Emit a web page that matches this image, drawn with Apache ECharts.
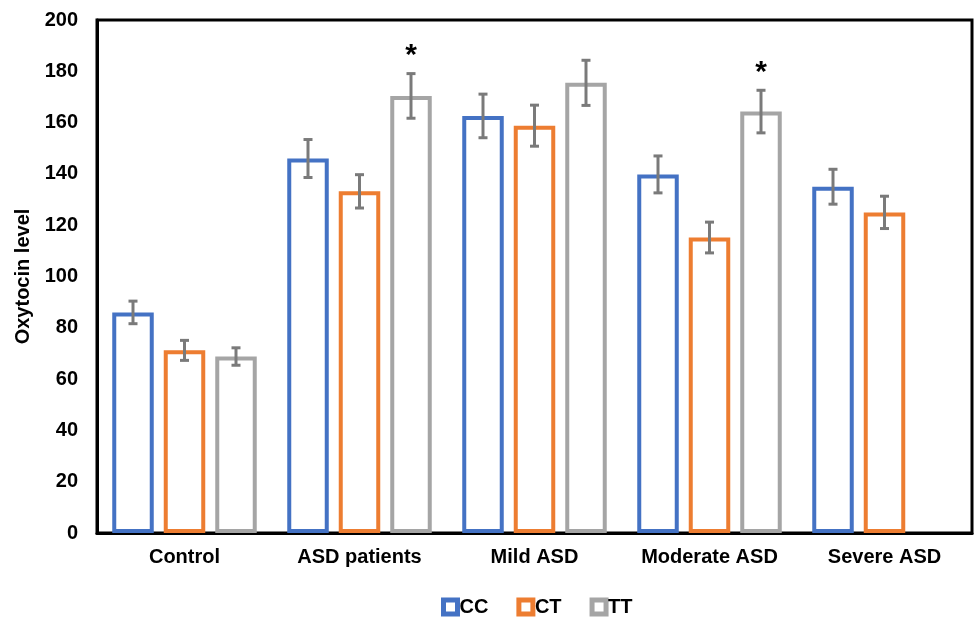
<!DOCTYPE html>
<html>
<head>
<meta charset="utf-8">
<script src="https://cdn.jsdelivr.net/npm/echarts@6/dist/echarts.min.js"></script>
<style>html,body{margin:0;padding:0;background:#fff;}#main{width:974px;height:630px;}</style>
</head>
<body>
<div id="main"></div>
<script>
var categories = ['Control', 'ASD patients', 'Mild ASD', 'Moderate ASD', 'Severe ASD'];
var seriesNames = ['CC', 'CT', 'TT'];
var ccValues = [86, 146, 162.6, 139.8, 135];
var ctValues = [71.2, 133.2, 158.8, 115.2, 125];
var ttValues = [68.8, 170.4, 175.5, 164.3, null];
var ccErr = [4.4, 7.4, 8.5, 7.2, 6.8];
var ctErr = [3.9, 6.5, 8.0, 6.0, 6.3];
var ttErr = [3.4, 8.7, 8.8, 8.3, null];
var ttSig = ['', '*', '', '*', ''];
var ccSig = ['', '', '', '', ''];
var ctSig = ['', '', '', '', ''];
var yTicks = [0, 20, 40, 60, 80, 100, 120, 140, 160, 180, 200];

var colors = ['#4472C4', '#ED7D31', '#A5A5A5'];
var values = [ccValues, ctValues, ttValues];
var errs = [ccErr, ctErr, ttErr];
var sigs = [ccSig, ctSig, ttSig];

var BAR_W = 41.5;
var BAR_GAP = 10;
var font = 'Liberation Sans, Arial, sans-serif';

var chart = echarts.init(document.getElementById('main'), null, {renderer: 'canvas'});

var series = [];
seriesNames.forEach(function (name, i) {
  series.push({
    name: name,
    type: 'bar',
    data: values[i],
    barWidth: BAR_W,
    barGap: (BAR_GAP / BAR_W * 100) + '%',
    itemStyle: { color: '#fff', borderColor: colors[i], borderWidth: 4 },
    emphasis: { disabled: true },
    z: 2
  });
});
seriesNames.forEach(function (name, i) {
  var offset = (i - 1) * (BAR_W + BAR_GAP);
  var data = values[i].map(function (v, k) {
    return v == null ? null : [k, v, errs[i][k], sigs[i][k]];
  }).filter(function (d) { return d; });
  series.push({
    type: 'custom',
    name: name + '_err',
    data: data,
    z: 5,
    silent: true,
    renderItem: function (params, api) {
      var k = api.value(0), v = api.value(1), e = api.value(2);
      var sig = data[params.dataIndex][3];
      var top = api.coord([k, v + e]);
      var bot = api.coord([k, v - e]);
      var x = top[0] + offset;
      var cap = 4.5;
      var st = { stroke: '#7A7A7A', lineWidth: 3 };
      var children = [
        { type: 'line', shape: { x1: x, y1: top[1], x2: x, y2: bot[1] }, style: st },
        { type: 'line', shape: { x1: x - cap, y1: top[1], x2: x + cap, y2: top[1] }, style: st },
        { type: 'line', shape: { x1: x - cap, y1: bot[1], x2: x + cap, y2: bot[1] }, style: st }
      ];
      if (sig) {
        children.push({
          type: 'text',
          style: { text: sig, x: x, y: top[1] - 3, textAlign: 'center', textVerticalAlign: 'bottom',
                   font: 'bold 30px ' + font, fill: '#000' }
        });
      }
      return { type: 'group', children: children };
    }
  });
});

var option = {
  animation: false,
  backgroundColor: '#fff',
  grid: { left: 97, right: 2, top: 20, bottom: 97, show: true, borderColor: '#000', borderWidth: 3 },
  legend: {
    left: 436, top: 592,
    itemWidth: 14, itemHeight: 14, itemGap: 28,
    icon: 'rect',
    textStyle: { fontFamily: font, fontWeight: 'bold', fontSize: 20, color: '#000', padding: [0, 0, 0, -3] },
    data: seriesNames.map(function (n, i) {
      return { name: n, itemStyle: { color: '#fff', borderColor: colors[i], borderWidth: 5 } };
    })
  },
  xAxis: {
    type: 'category',
    data: categories,
    axisLine: { lineStyle: { color: '#000', width: 3 } },
    axisTick: { show: false },
    axisLabel: { interval: 0, fontFamily: font, fontWeight: 'bold', fontSize: 20, color: '#000', margin: 14 }
  },
  yAxis: {
    type: 'value',
    min: yTicks[0], max: yTicks[yTicks.length - 1], interval: yTicks[1] - yTicks[0],
    name: 'Oxytocin level',
    nameLocation: 'middle',
    nameGap: 64,
    nameTextStyle: { fontFamily: font, fontWeight: 'bold', fontSize: 20, color: '#000' },
    axisLine: { show: true, lineStyle: { color: '#000', width: 3 } },
    axisTick: { show: false },
    splitLine: { show: false },
    axisLabel: { fontFamily: font, fontWeight: 'bold', fontSize: 20, color: '#000', margin: 19 }
  },
  series: series
};
chart.setOption(option);
</script>
</body>
</html>
